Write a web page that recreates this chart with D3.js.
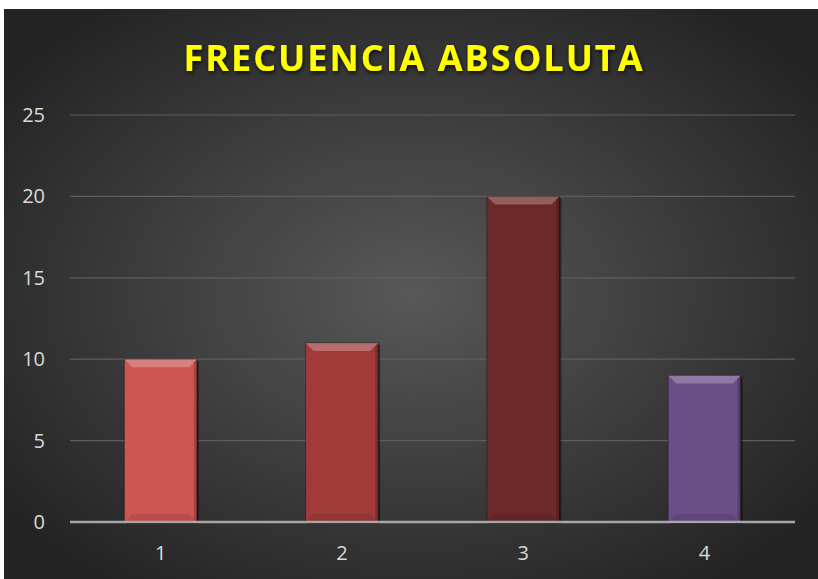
<!DOCTYPE html>
<html lang="es">
<head>
<meta charset="UTF-8">
<title>Frecuencia absoluta</title>
<script src="https://d3js.org/d3.v7.min.js"></script>
<style>
  body { margin: 0; background: #ffffff; }
  .tick text { font-family: "Open Sans", sans-serif; font-size: 20px; fill: #d9d9d9; }
  .axis path, .axis line { display: none; }
</style>
</head>
<body>
<script>

// data
var categories = ["1", "2", "3", "4"];
var values = [10, 11, 20, 9];
var yTicks = [0, 5, 10, 15, 20, 25];
var barColors = ["#cd5552", "#a03b3a", "#6b2a29", "#6a4e86"];

var W = 818, H = 579;
var margin = {top: 115, right: 23, bottom: 57, left: 70};
var width = W - margin.left - margin.right,
    height = H - margin.top - margin.bottom;

var svg = d3.select("body").append("svg")
    .attr("width", W)
    .attr("height", H);

var defs = svg.append("defs");

var bg = defs.append("radialGradient")
    .attr("id", "bg")
    .attr("cx", "50%").attr("cy", "50%").attr("r", "62%");
bg.append("stop").attr("offset", "0%").attr("stop-color", "#585858");
bg.append("stop").attr("offset", "100%").attr("stop-color", "#242424");

var shadow = defs.append("filter").attr("id", "shadow")
    .attr("x", "-20%").attr("y", "-20%").attr("width", "140%").attr("height", "140%");
shadow.append("feDropShadow")
    .attr("dx", 1).attr("dy", 2).attr("stdDeviation", 2)
    .attr("flood-color", "#000").attr("flood-opacity", 0.8);

svg.append("rect")
    .attr("x", 4).attr("y", 9)
    .attr("width", W - 4).attr("height", H - 9)
    .attr("fill", "url(#bg)");

// title
svg.append("text")
    .attr("x", 414)
    .attr("y", 71)
    .attr("text-anchor", "middle")
    .style("font-family", "'Open Sans', sans-serif")
    .style("font-weight", "bold")
    .style("font-size", "36px")
    .style("letter-spacing", "2px")
    .attr("fill", "#ffff00")
    .attr("filter", "url(#shadow)")
    .text("FRECUENCIA ABSOLUTA");

var g = svg.append("g")
    .attr("transform", "translate(" + margin.left + "," + margin.top + ")");

var x = d3.scaleBand()
    .domain(categories)
    .range([0, width])
    .paddingInner(0.6)
    .paddingOuter(0.3);

var y = d3.scaleLinear()
    .domain([0, 25])
    .range([height, 0]);

// gridlines
g.selectAll(".grid")
    .data(yTicks.filter(function(d) { return d > 0; }))
  .enter().append("line")
    .attr("x1", 0).attr("x2", width)
    .attr("y1", function(d) { return y(d); })
    .attr("y2", function(d) { return y(d); })
    .attr("stroke", "#5e5e5e")
    .attr("stroke-width", 1.2);

g.append("g")
    .attr("class", "axis")
    .attr("transform", "translate(-22,0)")
    .call(d3.axisLeft(y).tickValues(yTicks).tickSize(0));

g.append("g")
    .attr("class", "axis")
    .attr("transform", "translate(0," + (height + 21) + ")")
    .call(d3.axisBottom(x).tickSize(0))
    .selectAll("text").attr("dy", "0.7em");

// bars with bevel
var bev = 8;
var bars = g.selectAll(".bar")
    .data(values)
  .enter().append("g")
    .attr("class", "bar");

bars.append("rect")
    .attr("x", function(d, i) { return x(categories[i]) + 2; })
    .attr("y", function(d) { return y(d) + 2; })
    .attr("width", x.bandwidth())
    .attr("height", function(d) { return height - y(d); })
    .attr("fill", "#000")
    .attr("opacity", 0.45);

bars.append("rect")
    .attr("x", function(d, i) { return x(categories[i]); })
    .attr("y", function(d) { return y(d); })
    .attr("width", x.bandwidth())
    .attr("height", function(d) { return height - y(d); })
    .attr("fill", function(d, i) { return barColors[i]; })
    .attr("stroke", "rgba(0,0,0,0.35)")
    .attr("stroke-width", 1);

// top bevel (light)
bars.append("path")
    .attr("d", function(d, i) {
      var x0 = x(categories[i]), x1 = x0 + x.bandwidth(), y0 = y(d);
      return "M" + x0 + "," + y0 + "L" + x1 + "," + y0 +
             "L" + (x1 - bev) + "," + (y0 + bev) + "L" + (x0 + bev) + "," + (y0 + bev) + "Z";
    })
    .attr("fill", "#ffffff")
    .attr("opacity", 0.25);

// bottom bevel (dark)
bars.append("path")
    .attr("d", function(d, i) {
      var x0 = x(categories[i]), x1 = x0 + x.bandwidth(), y1 = height;
      return "M" + x0 + "," + y1 + "L" + x1 + "," + y1 +
             "L" + (x1 - bev) + "," + (y1 - bev) + "L" + (x0 + bev) + "," + (y1 - bev) + "Z";
    })
    .attr("fill", "#000000")
    .attr("opacity", 0.1);

// side bevels
bars.append("path")
    .attr("d", function(d, i) {
      var x0 = x(categories[i]), x1 = x0 + x.bandwidth(), y0 = y(d);
      return "M" + x1 + "," + y0 + "L" + x1 + "," + height +
             "L" + (x1 - 3) + "," + (height - 3) + "L" + (x1 - 3) + "," + (y0 + 3) + "Z";
    })
    .attr("fill", "#000000")
    .attr("opacity", 0.2);

// zero axis line
g.append("line")
    .attr("x1", 0).attr("x2", width)
    .attr("y1", y(0)).attr("y2", y(0))
    .attr("stroke", "#a6a6a6")
    .attr("stroke-width", 2.5);

</script>
</body>
</html>
